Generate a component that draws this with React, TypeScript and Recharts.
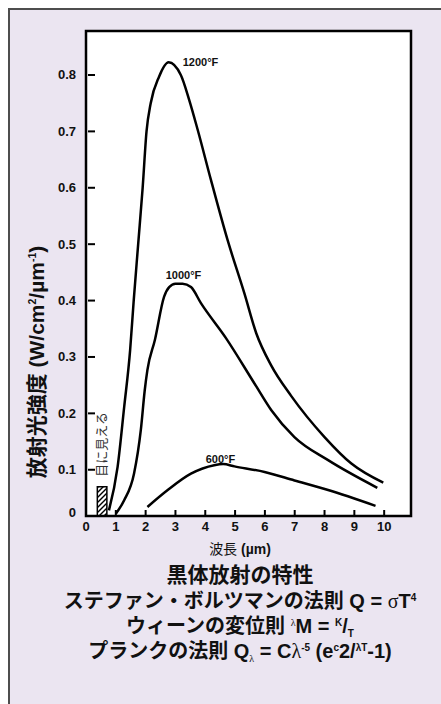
import React from 'react';
import {
    LineChart, Line, XAxis, YAxis, CartesianGrid, ReferenceArea, ReferenceDot,
} from 'recharts';

// 波長 (µm) / 放射光強度 の読み取り値
const x1200 = [0.77, 1.06, 1.28, 1.48, 1.60, 1.75, 1.90, 2.03, 2.17, 2.45, 2.77, 3.18, 3.46, 3.75, 4.19, 4.75, 5.31, 5.71, 6.21, 6.88, 8.0, 8.9, 9.97];
const y1200 = [0.028, 0.105, 0.211, 0.312, 0.40, 0.50, 0.60, 0.70, 0.75, 0.797, 0.8225, 0.80, 0.756, 0.702, 0.614, 0.507, 0.413, 0.342, 0.285, 0.231, 0.158, 0.111, 0.077];

const x1000 = [1.0, 1.28, 1.61, 1.84, 1.97, 2.06, 2.31, 2.62, 2.79, 3.0, 3.24, 3.52, 3.86, 4.70, 5.65, 6.21, 6.99, 8.12, 9.77];
const y1000 = [0.022, 0.046, 0.093, 0.171, 0.241, 0.277, 0.33, 0.407, 0.424, 0.43, 0.43, 0.424, 0.395, 0.333, 0.253, 0.206, 0.158, 0.117, 0.068];

const x600 = [2.06, 2.74, 3.52, 4.30, 4.6, 4.98, 5.99, 6.99, 8.12, 9.71];
const y600 = [0.034, 0.064, 0.093, 0.108, 0.11, 0.106, 0.096, 0.081, 0.064, 0.036];

const curveNames = ['1200°F', '1000°F', '600°F'];
const curveLabelX = [3.84, 3.27, 4.51];
const curveLabelY = [0.823, 0.445, 0.119];

// 可視光の範囲
const visibleFrom = 0.38;
const visibleTo = 0.70;
const visibleHeight = 0.07;

const xTicks = [0, 1, 2, 3, 4, 5, 6, 7, 8, 9, 10];
const X_MAX = 10.9;
const Y_MIN = 0.018; // 図では 0 を軸の位置に置いている
const Y_MAX = 0.878;
const yTicks = [Y_MIN, 0.1, 0.2, 0.3, 0.4, 0.5, 0.6, 0.7, 0.8];

const toPoints = (xs: number[], ys: number[]) => xs.map((x, i) => ({ x, y: ys[i] }));
const series = [toPoints(x1200, y1200), toPoints(x1000, y1000), toPoints(x600, y600)];

const FONT = '"Liberation Sans", Arial, "Noto Sans CJK JP", sans-serif';
const SERIF = '"Liberation Serif", "DejaVu Serif", serif';

const YTick = (props: any) => {
    const { x, y, payload } = props;
    const zero = payload.value === Y_MIN;
    return (
        <g>
            {!zero && <line x1={x + 12} x2={x + 19} y1={y} y2={y} stroke="#000" strokeWidth={2} />}
            <text x={x} y={zero ? y - 4 : y} dy={4.5} textAnchor="end" fontFamily={FONT} fontWeight={700} fontSize={13} fill="#111">
                {zero ? '0' : payload.value.toFixed(1)}
            </text>
        </g>
    );
};

const XTick = (props: any) => {
    const { x, y, payload } = props;
    return (
        <g>
            {payload.value !== 0 && <line x1={x} x2={x} y1={y} y2={y - 6} stroke="#000" strokeWidth={2} />}
            <text x={x} y={y + 15} textAnchor="middle" fontFamily={FONT} fontWeight={700} fontSize={13} fill="#111">
                {payload.value}
            </text>
        </g>
    );
};

const visibleLabel = (p: any) => {
    const vb = p.viewBox || {};
    const cx = vb.x + (vb.width || 0) / 2;
    const cy = vb.y + (vb.height || 0) / 2;
    return (
        <text x={cx} y={cy} dy={4} textAnchor="middle" transform={`rotate(-90, ${cx}, ${cy})`}
            fontFamily={FONT} fontSize={13} fill="#333">目に見える</text>
    );
};

const sup = { fontSize: '0.5em', position: 'relative', top: '-0.75em' } as React.CSSProperties;
const sub = { fontSize: '0.5em', position: 'relative', top: '0.35em' } as React.CSSProperties;
const greek = { fontFamily: SERIF, fontWeight: 400 } as React.CSSProperties;

const lineStyle = (center: number, size: number): React.CSSProperties => ({
    position: 'absolute', left: 40, width: 400, top: center - 12, height: 24, lineHeight: '24px',
    textAlign: 'center', color: '#111', whiteSpace: 'nowrap', fontWeight: 700, fontSize: size,
});

export default function App() {
    return (
        <div style={{ position: 'fixed', left: 0, top: 0, width: 441, height: 704, overflow: 'hidden', fontFamily: FONT }}>
            <div style={{
                position: 'absolute', left: 8, top: 8, width: 433, height: 696, boxSizing: 'border-box',
                borderLeft: '2px solid #4d4d4d', borderTop: '2px solid #4d4d4d', background: '#ebe5f1',
            }} />
            <div style={{ position: 'absolute', left: 0, top: 0 }}>
                <LineChart width={441} height={560} margin={{ top: 31, right: 30, bottom: 14, left: 46 }}>
                    <defs>
                        <pattern id="visHatch" patternUnits="userSpaceOnUse" width={5} height={5}>
                            <path d="M-1,1 l2,-2 M0,5 l5,-5 M4,6 l2,-2" stroke="#000" strokeWidth={1.4} />
                        </pattern>
                    </defs>
                    <CartesianGrid horizontal={false} vertical={false} fill="#fff" />
                    <XAxis dataKey="x" type="number" domain={[0, X_MAX]} ticks={xTicks} interval={0}
                        allowDataOverflow axisLine={false} tickLine={false} tickSize={0} tickMargin={0}
                        height={30} tick={<XTick />} />
                    <YAxis type="number" domain={[Y_MIN, Y_MAX]} ticks={yTicks} interval={0}
                        allowDataOverflow axisLine={false} tickLine={false} tickSize={0} tickMargin={10}
                        width={40} tick={<YTick />} />
                    <ReferenceArea x1={visibleFrom} x2={visibleTo} y1={Y_MIN} y2={visibleHeight}
                        fill="url(#visHatch)" fillOpacity={1} stroke="#000" strokeWidth={1.5} />
                    <ReferenceDot x={(visibleFrom + visibleTo) / 2} y={0.145} r={0} fill="none" stroke="none"
                        label={visibleLabel} />
                    {series.map((pts, i) => (
                        <Line key={curveNames[i]} data={pts} dataKey="y" type="monotone" stroke="#000"
                            strokeWidth={2.5} dot={false} activeDot={false} isAnimationActive={false} />
                    ))}
                    {curveNames.map((name, i) => (
                        <ReferenceDot key={name} x={curveLabelX[i]} y={curveLabelY[i]} r={0} fill="none" stroke="none"
                            label={{ value: name, position: 'center', fontSize: 11, fontWeight: 700, fill: '#111', fontFamily: FONT }} />
                    ))}
                    <ReferenceArea x1={0} x2={X_MAX} y1={Y_MIN} y2={Y_MAX} fill="none" stroke="#000"
                        strokeWidth={2.5} ifOverflow="visible" />
                </LineChart>
            </div>
            <div style={{
                position: 'absolute', left: 35, top: 362, transform: 'translate(-50%, -50%) rotate(-90deg)',
                whiteSpace: 'nowrap', fontSize: 21, fontWeight: 700, color: '#111',
            }}>
                放射光強度 (W/cm<span style={sup}>2</span>/µm<span style={sup}>-1</span>)
            </div>
            <div style={{ ...lineStyle(549, 14), fontWeight: 400 }}>
                波長 <b>(µm)</b>
            </div>
            <div style={lineStyle(575, 21)}>黒体放射の特性</div>
            <div style={lineStyle(601, 20)}>
                ステファン・ボルツマンの法則 Q = <span style={greek}>σ</span>T<span style={sup}>4</span>
            </div>
            <div style={lineStyle(626, 20)}>
                ウィーンの変位則 <span style={{ ...sup, ...greek }}>λ</span>M = <span style={sup}>K</span>/<span style={sub}>T</span>
            </div>
            <div style={lineStyle(651, 20)}>
                プランクの法則 Q<span style={{ ...sub, ...greek }}>λ</span> = C<span style={greek}>λ</span><span style={sup}>-5</span> (e<span style={sup}>c</span>2/<span style={sup}>λT</span>-1)
            </div>
        </div>
    );
}
